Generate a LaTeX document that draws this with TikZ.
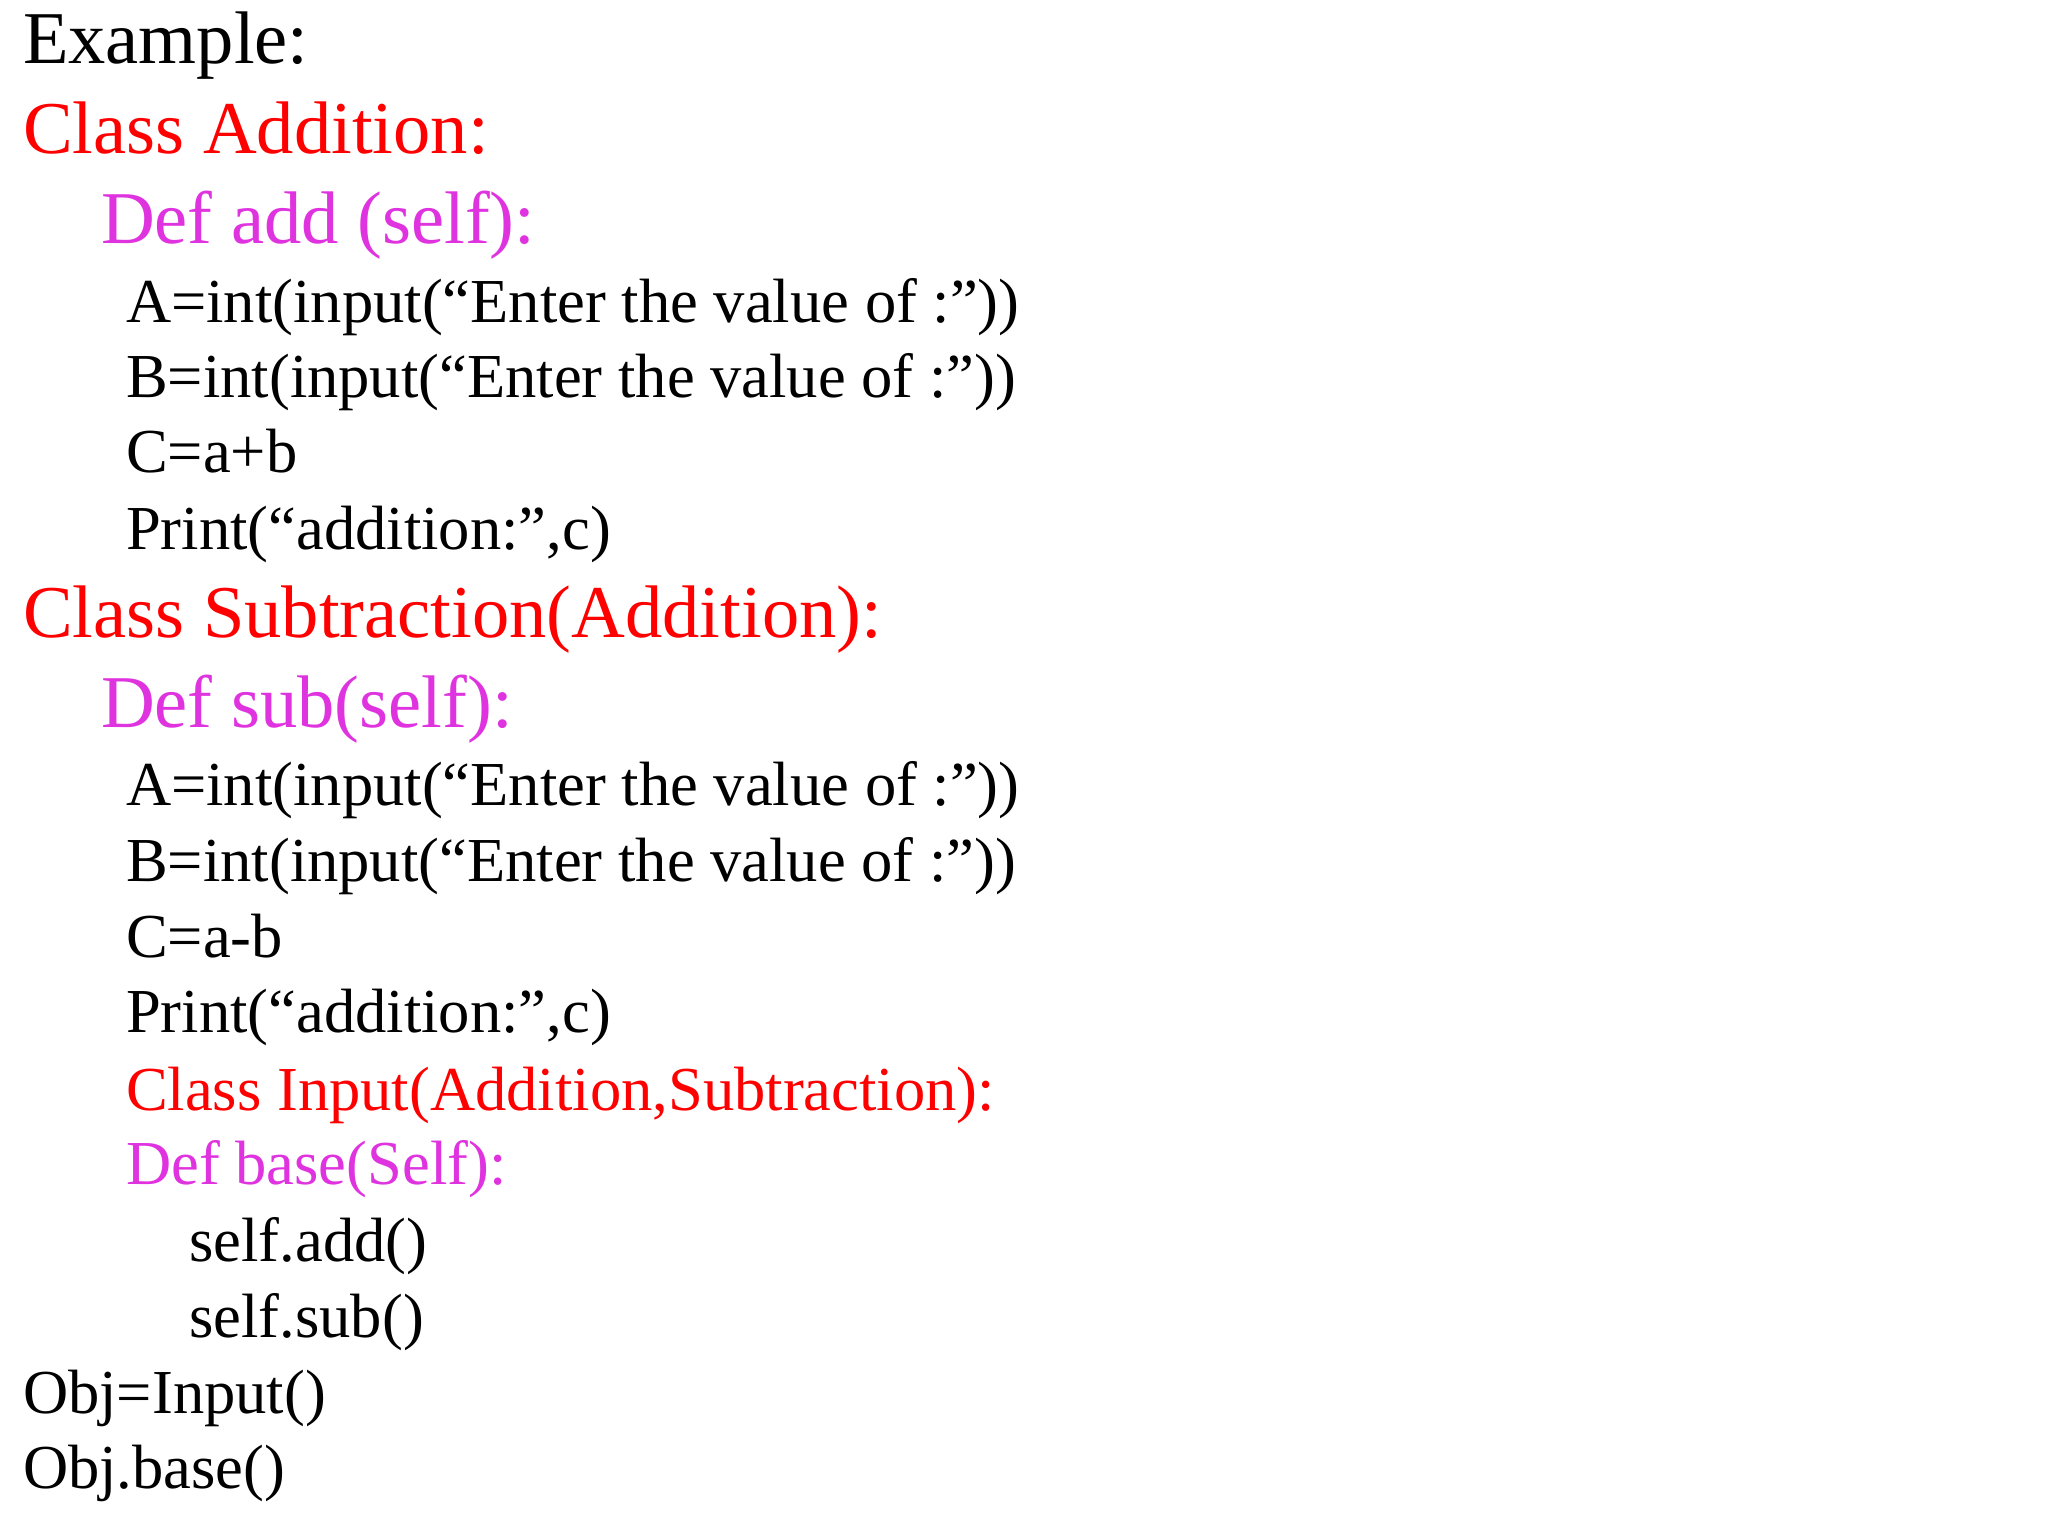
\documentclass[tikz,border=0pt]{standalone}
\usepackage{fontspec}
\setmainfont{Liberation Serif}
\definecolor{cred}{HTML}{FF0000}
\definecolor{cmag}{HTML}{E033E0}
\begin{document}
\begin{tikzpicture}
\useasboundingbox[fill=white] (0,0) rectangle (20.48,-15.36);
\tikzset{ln/.style={anchor=base west,inner sep=0pt,yshift=0.05cm},
big/.style={ln,font=\fontsize{21.2}{25}\selectfont},
sml/.style={ln,font=\fontsize{17.8}{21}\selectfont}}
\node[big] (t0) at (0.224,-0.686) {Example:};
\node[big,text=cred] (t1) at (0.224,-1.584) {Class Addition:};
\node[big,text=cmag] (t2) at (1.003,-2.481) {Def add (self):};
\node[sml] (t3) at (1.254,-3.273) {A=int(input(“Enter the value of :”))};
\node[sml] (t4) at (1.254,-4.025) {B=int(input(“Enter the value of :”))};
\node[sml] (t5) at (1.254,-4.777) {C=a+b};
\node[sml] (t6) at (1.254,-5.542) {Print(“addition:”,c)};
\node[big,text=cred] (t7) at (0.224,-6.426) {Class Subtraction(Addition):};
\node[big,text=cmag] (t8) at (1.003,-7.324) {Def sub(self):};
\node[sml] (t9) at (1.254,-8.102) {A=int(input(“Enter the value of :”))};
\node[sml] (t10) at (1.254,-8.868) {B=int(input(“Enter the value of :”))};
\node[sml] (t11) at (1.254,-9.620) {C=a-b};
\node[sml] (t12) at (1.254,-10.372) {Print(“addition:”,c)};
\node[sml,text=cred] (t13) at (1.254,-11.151) {Class Input(Addition,Subtraction):};
\node[sml,text=cmag] (t14) at (1.254,-11.890) {Def base(Self):};
\node[sml] (t15) at (1.887,-12.668) {self.add()};
\node[sml] (t16) at (1.887,-13.420) {self.sub()};
\node[sml] (t17) at (0.224,-14.186) {Obj=Input()};
\node[sml] (t18) at (0.224,-14.938) {Obj.base()};
\end{tikzpicture}
\end{document}
